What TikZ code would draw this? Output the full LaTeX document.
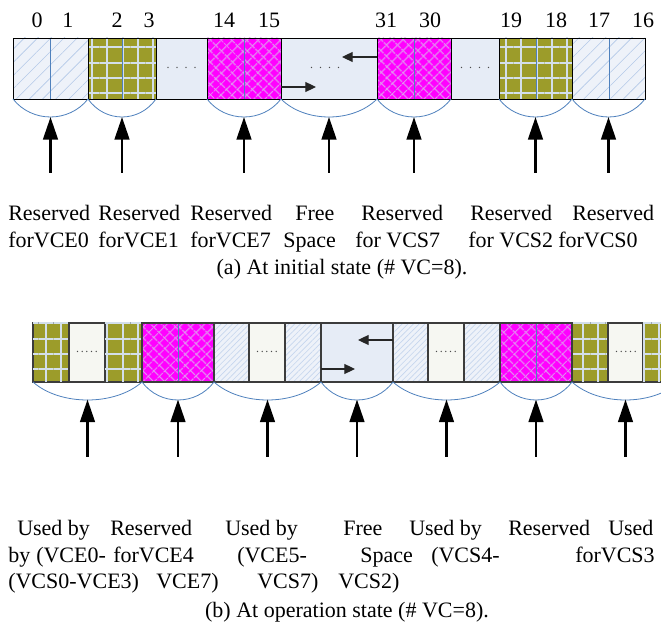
\documentclass[tikz,border=0pt]{standalone}
\usepackage{fontspec}
\setmainfont{Liberation Serif}
\usetikzlibrary{arrows.meta,patterns.meta}
\definecolor{hatchbg}{HTML}{EEF2F9}
\definecolor{hatchln}{HTML}{B3C9E8}
\definecolor{hatchlnb}{HTML}{C6D6EE}
\definecolor{olivebg}{HTML}{9C9C2A}
\definecolor{plaidln}{HTML}{D3DFEA}
\definecolor{magbg}{HTML}{FF00FF}
\definecolor{magln}{HTML}{DDA2EE}
\definecolor{freebg}{HTML}{E6ECF6}
\definecolor{whitebg}{HTML}{F6F7F2}
\definecolor{midblue}{HTML}{4F81BD}
\definecolor{bordb}{HTML}{3C3C3C}
\begin{document}
\begin{tikzpicture}[x=0.75pt,y=-0.75pt,
  cell/.style={inner sep=0pt, outer sep=0pt, anchor=north west, minimum width=#1*0.75pt},
  rowa/.style={minimum height=61*0.75pt},
  rowb/.style={minimum height=59*0.75pt},
  hatcha/.style={preaction={fill=hatchbg}, pattern={Lines[angle=45,distance=7pt,line width=0.45pt]}, pattern color=hatchln},
  hatchb/.style={preaction={fill=hatchbg}, pattern={Lines[angle=45,distance=3pt,line width=0.5pt]}, pattern color=hatchlnb},
  plaid/.style={fill=olivebg,
    postaction={pattern={Lines[angle=0,distance=11.5pt,line width=1.5pt]}, pattern color=plaidln},
    postaction={pattern={Lines[angle=90,distance=11.5pt,line width=1.5pt]}, pattern color=plaidln}},
  magx/.style={fill=magbg,
    postaction={pattern={Lines[angle=45,distance=6.5pt,line width=0.8pt]}, pattern color=magln},
    postaction={pattern={Lines[angle=-45,distance=6.5pt,line width=0.8pt]}, pattern color=magln}},
  freecell/.style={fill=freebg},
  whitecell/.style={fill=whitebg},
  borda/.style={draw=black, line width=0.7pt},
  bordbl/.style={draw=bordb, line width=0.9pt},
  midline/.style={draw=midblue, line width=0.6pt},
  brace/.style={draw=midblue, line width=0.6pt},
  bigarrow/.style={-{Triangle[length=17pt,width=11pt]}, line width=2pt},
  smallarrow/.style={-{Triangle[length=8pt,width=7.5pt]}, line width=0.8pt, draw=black!85, fill=black},
  dotsa/.style={font=\fontsize{9}{10}\selectfont, text=black!70, inner sep=0pt},
  numtxt/.style={anchor=base, inner sep=0pt, font=\fontsize{16.5}{20}\selectfont},
  txt/.style={anchor=base west, inner sep=0pt, font=\fontsize{16.5}{20}\selectfont},
  captxt/.style={anchor=base, inner sep=0pt, font=\fontsize{16.5}{20}\selectfont}
]
\clip (0,0) rectangle (661,630);
\fill[white] (0,0) rectangle (661,630);

% ---------------- (a) ----------------
\node[cell=37.5,rowa,hatcha] (a0) at (13,38) {};
\node[cell=37.5,rowa,hatcha] (a1) at (50.5,38) {};
\node[cell=34,rowa,plaid] (a2) at (88,38) {};
\node[cell=34,rowa,plaid] (a3) at (122,38) {};
\node[cell=51,rowa,freecell,borda] (ad1) at (156,38) {};
\node[cell=37,rowa,magx] (a14) at (207,38) {};
\node[cell=37,rowa,magx] (a15) at (244,38) {};
\node[cell=96,rowa,freecell,borda] (afree) at (281,38) {};
\node[cell=37,rowa,magx] (a31) at (377,38) {};
\node[cell=37,rowa,magx] (a30) at (414,38) {};
\node[cell=48,rowa,freecell,borda] (ad2) at (451,38) {};
\node[cell=37,rowa,plaid] (a19) at (499,38) {};
\node[cell=36,rowa,plaid] (a18) at (536,38) {};
\node[cell=37,rowa,hatcha] (a17) at (572,38) {};
\node[cell=36,rowa,hatcha] (a16) at (609,38) {};

\foreach \c in {a0,a2,a14,a31,a19,a17}
  \draw[midline] (\c.north east) -- (\c.south east);
\draw[borda] (a0.north west) rectangle (a1.south east);
\draw[borda] (a2.north west) rectangle (a3.south east);
\draw[borda] (a14.north west) rectangle (a15.south east);
\draw[borda] (a31.north west) rectangle (a30.south east);
\draw[borda] (a19.north west) rectangle (a18.south east);
\draw[borda] (a17.north west) rectangle (a16.south east);

\node[dotsa] (dta1) at (181.5,68) {.\hspace{4.5pt}.\hspace{4.5pt}.\hspace{4.5pt}.};
\node[dotsa] (dta2) at (475,68) {.\hspace{4.5pt}.\hspace{4.5pt}.\hspace{4.5pt}.};
\node[dotsa] (dta3) at (325,68) {.\hspace{4.5pt}.\hspace{4.5pt}.\hspace{4.5pt}.};

\coordinate (fra) at (316,87);
\coordinate (fla) at (342,57);
\draw[smallarrow] ([yshift=9pt]afree.south west) -- (fra);
\draw[smallarrow] ([yshift=-14.25pt]afree.north east) -- (fla);

\node[numtxt] (n0) at (37,28) {0};
\node[numtxt] (n1) at (68,28) {1};
\node[numtxt] (n2) at (117,28) {2};
\node[numtxt] (n3) at (149,28) {3};
\node[numtxt] (n14) at (224,28) {14};
\node[numtxt] (n15) at (269,28) {15};
\node[numtxt] (n31) at (386,28) {31};
\node[numtxt] (n30) at (430,28) {30};
\node[numtxt] (n19) at (511,28) {19};
\node[numtxt] (n18) at (556,28) {18};
\node[numtxt] (n17) at (599,28) {17};
\node[numtxt] (n16) at (643,28) {16};

\draw[brace] (a0.south west) .. controls +(19,24) and +(-19,24) .. (a1.south east);
\draw[brace] (a2.south west) .. controls +(17,24) and +(-17,24) .. (a3.south east);
\draw[brace] (a14.south west) .. controls +(18.5,24) and +(-18.5,24) .. (a15.south east);
\draw[brace] (afree.south west) .. controls +(24,24) and +(-24,24) .. (afree.south east);
\draw[brace] (a31.south west) .. controls +(18.5,24) and +(-18.5,24) .. (a30.south east);
\draw[brace] (a19.south west) .. controls +(18.5,24) and +(-18.5,24) .. (a18.south east);
\draw[brace] (a17.south west) .. controls +(18.5,24) and +(-18.5,24) .. (a16.south east);

\foreach \i/\x in {1/50.5,2/122,3/244,4/329,5/414,6/535.5,7/608.5}{
  \coordinate (sa\i) at (\x,173);
  \coordinate (ta\i) at (\x,117);
  \draw[bigarrow] (sa\i) -- (ta\i);
}

\node[txt] (la1) at (8,221) {Reserved};
\node[txt] (la2) at (98,221) {Reserved};
\node[txt] (la3) at (190,221) {Reserved};
\node[txt] (la4) at (295,221) {Free};
\node[txt] (la5) at (361,221) {Reserved};
\node[txt] (la6) at (470,221) {Reserved};
\node[txt] (la7) at (572,221) {Reserved};
\node[txt] (lb1) at (8,248) {forVCE0};
\node[txt] (lb2) at (98,248) {forVCE1};
\node[txt] (lb3) at (190,248) {forVCE7};
\node[txt] (lb4) at (283,248) {Space};
\node[txt] (lb5) at (355,248) {for VCS7};
\node[txt] (lb6) at (468,248) {for VCS2};
\node[txt] (lb7) at (558,248) {forVCS0};
\node[captxt] (capa) at (342,275) {(a) At initial state (\# VC=8).};

% ---------------- (b) ----------------
\node[cell=36,rowb,plaid,bordbl] (b1) at (33,323) {};
\node[cell=36,rowb,whitecell,bordbl] (b2) at (69,323) {};
\node[cell=37,rowb,plaid,bordbl] (b3) at (105,323) {};
\node[cell=36,rowb,magx] (b4) at (142,323) {};
\node[cell=36,rowb,magx] (b5) at (178,323) {};
\node[cell=35,rowb,hatchb,bordbl] (b6) at (214,323) {};
\node[cell=36,rowb,whitecell,bordbl] (b7) at (249,323) {};
\node[cell=36,rowb,hatchb,bordbl] (b8) at (285,323) {};
\node[cell=72,rowb,freecell,bordbl] (bfree) at (321,323) {};
\node[cell=35,rowb,hatchb,bordbl] (b9) at (393,323) {};
\node[cell=36,rowb,whitecell,bordbl] (b10) at (428,323) {};
\node[cell=36,rowb,hatchb,bordbl] (b11) at (464,323) {};
\node[cell=36,rowb,magx] (b12) at (500,323) {};
\node[cell=36,rowb,magx] (b13) at (536,323) {};
\node[cell=36,rowb,plaid,bordbl] (b14) at (572,323) {};
\node[cell=35,rowb,whitecell,bordbl] (b15) at (608,323) {};
\node[cell=36,rowb,plaid,bordbl] (b16) at (643,323) {};

\draw[midline] (b4.north east) -- (b4.south east);
\draw[midline] (b12.north east) -- (b12.south east);
\draw[bordbl] (b4.north west) rectangle (b5.south east);
\draw[bordbl] (b12.north west) rectangle (b13.south east);

\node[dotsa] (dtb1) at (87,352) {.\hspace{1.3pt}.\hspace{1.3pt}.\hspace{1.3pt}.\hspace{1.3pt}.};
\node[dotsa] (dtb2) at (267,352) {.\hspace{1.3pt}.\hspace{1.3pt}.\hspace{1.3pt}.\hspace{1.3pt}.};
\node[dotsa] (dtb3) at (446,352) {.\hspace{1.3pt}.\hspace{1.3pt}.\hspace{1.3pt}.\hspace{1.3pt}.};
\node[dotsa] (dtb4) at (626,352) {.\hspace{1.3pt}.\hspace{1.3pt}.\hspace{1.3pt}.\hspace{1.3pt}.};

\coordinate (frb) at (355,369);
\coordinate (flb) at (358,340);
\draw[smallarrow] ([yshift=9.75pt]bfree.south west) -- (frb);
\draw[smallarrow] ([yshift=-12.75pt]bfree.north east) -- (flb);

\draw[brace] (b1.south west) .. controls +(27,24) and +(-27,24) .. (b3.south east);
\draw[brace] (b4.south west) .. controls +(18,24) and +(-18,24) .. (b5.south east);
\draw[brace] (b6.south west) .. controls +(27,24) and +(-27,24) .. (b8.south east);
\draw[brace] (bfree.south west) .. controls +(18,24) and +(-18,24) .. (bfree.south east);
\draw[brace] (b9.south west) .. controls +(27,24) and +(-27,24) .. (b11.south east);
\draw[brace] (b12.south west) .. controls +(18,24) and +(-18,24) .. (b13.south east);
\draw[brace] (b14.south west) .. controls +(27,24) and +(-27,24) .. (b16.south east);

\foreach \i/\x in {1/87.5,2/178,3/267.5,4/357,5/446.5,6/536,7/625.5}{
  \coordinate (sb\i) at (\x,457);
  \coordinate (tb\i) at (\x,399.5);
  \draw[bigarrow] (sb\i) -- (tb\i);
}

\node[txt] (lc1) at (17,536) {Used by};
\node[txt] (lc2) at (110,536) {Reserved};
\node[txt] (lc3) at (225,536) {Used by};
\node[txt] (lc4) at (343,536) {Free};
\node[txt] (lc5) at (409,536) {Used by};
\node[txt] (lc6) at (508,536) {Reserved};
\node[txt] (lc7) at (608,536) {Used};
\node[txt] (ld1) at (8,563) {by};
\node[txt] (ld2) at (36,563) {(VCE0-};
\node[txt] (ld3) at (113,563) {forVCE4};
\node[txt] (ld4) at (237,563) {(VCE5-};
\node[txt] (ld5) at (360,563) {Space};
\node[txt] (ld6) at (431,563) {(VCS4-};
\node[txt] (ld7) at (575,563) {forVCS3};
\node[txt] (le1) at (8,589) {(VCS0-VCE3)};
\node[txt] (le2) at (156,589) {VCE7)};
\node[txt] (le3) at (257,589) {VCS7)};
\node[txt] (le4) at (338,589) {VCS2)};
\node[captxt] (capb) at (347,618) {(b) At operation state (\# VC=8).};
\end{tikzpicture}
\end{document}
